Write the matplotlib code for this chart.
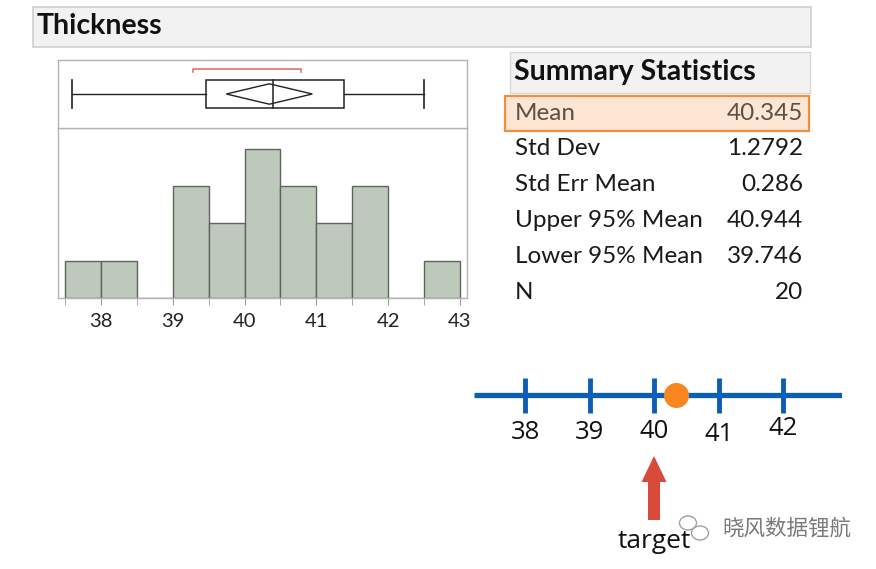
import numpy as np
import matplotlib
matplotlib.use("Agg")
import matplotlib.pyplot as plt
from matplotlib.patches import Rectangle, Polygon, FancyArrow, Ellipse

plt.rcParams['font.family'] = ['Lato', 'DejaVu Sans']

# datos del histograma
bin_edges = [37.5, 38.0, 38.5, 39.0, 39.5, 40.0, 40.5, 41.0, 41.5, 42.0, 42.5, 43.0]
counts = [1, 1, 0, 3, 2, 4, 3, 2, 3, 0, 1]
hist_ticks = [38, 39, 40, 41, 42, 43]

# datos del box plot
whisker_lo = 37.6
whisker_hi = 42.5
q1 = 39.46
q3 = 41.38
median = 40.4
mean = 40.345
ci_lo = 39.746
ci_hi = 40.944
short_lo = 39.28
short_hi = 40.79

# tabla resumen
stat_names = ["Mean", "Std Dev", "Std Err Mean", "Upper 95% Mean", "Lower 95% Mean", "N"]
stat_values = ["40.345", "1.2792", "0.286", "40.944", "39.746", "20"]

# recta numerica
line_ticks = [38, 39, 40, 41, 42]
target = 40

W, H = 876, 569
fig = plt.figure(figsize=(W / 100, H / 100), dpi=100)

def fig_rect(x0, y0, x1, y1):
    # pixeles -> fraccion de figura
    return [x0 / W, 1 - y1 / H, (x1 - x0) / W, (y1 - y0) / H]

xlim = (37.40, 43.10)
frame_col = '#B4B4B4'

# histograma
axh = fig.add_axes(fig_rect(58, 128, 467, 298))
widths = np.diff(bin_edges)
axh.bar(bin_edges[:-1], counts, width=widths, align='edge',
        color='#BDC9BA', edgecolor='#5E655F', linewidth=1.0)
axh.set_xlim(*xlim)
axh.set_ylim(0, 4.56)
axh.set_yticks([])
axh.set_xticks(hist_ticks)
axh.set_xticks(bin_edges, minor=True)
axh.tick_params(axis='x', which='both', length=5, color='#9A9A9A', labelsize=14.5,
                pad=6, labelcolor='#222222')
for s in axh.spines.values():
    s.set_color(frame_col)
    s.set_linewidth(1.0)

# box plot
axb = fig.add_axes(fig_rect(58, 60, 467, 128))
axb.set_xlim(*xlim)
axb.set_ylim(0, 1)
axb.set_xticks([])
axb.set_yticks([])
for s in axb.spines.values():
    s.set_color(frame_col)
    s.set_linewidth(1.0)
yc = 0.5
bh = 0.2
axb.plot([whisker_lo, q1], [yc, yc], color='#222222', lw=1)
axb.plot([q3, whisker_hi], [yc, yc], color='#222222', lw=1)
axb.plot([whisker_lo, whisker_lo], [yc - 0.2, yc + 0.2], color='#222222', lw=1.2)
axb.plot([whisker_hi, whisker_hi], [yc - 0.2, yc + 0.2], color='#222222', lw=1.2)
axb.add_patch(Rectangle((q1, yc - bh), q3 - q1, 2 * bh, fill=False,
                        edgecolor='#222222', lw=1.1))
axb.plot([median, median], [yc - bh, yc + bh], color='#222222', lw=1.1)
axb.add_patch(Polygon([[ci_lo, yc], [mean, yc + 0.15], [ci_hi, yc], [mean, yc - 0.15]],
                      closed=True, fill=False, edgecolor='#222222', lw=1.0))
axb.plot([short_lo, short_lo, short_hi, short_hi], [0.82, 0.87, 0.87, 0.82],
         color='#E87070', lw=1.2)

# capa de anotaciones en pixeles
ov = fig.add_axes([0, 0, 1, 1], zorder=-1)
ov.set_xlim(0, W)
ov.set_ylim(H, 0)
ov.axis('off')

ov.add_patch(Rectangle((33, 7), 778, 40, facecolor='#F2F2F2', edgecolor='#CFCFCF', lw=1.2))
ov.text(37, 26, "Thickness", fontsize=20.5, fontweight='bold', va='center', ha='left',
        color='#111111')

ov.add_patch(Rectangle((510, 52), 300, 41, facecolor='#F2F2F2', edgecolor='#D8D8D8', lw=1.0))
ov.text(514, 72, "Summary Statistics", fontsize=20.5, fontweight='bold', va='center',
        ha='left', color='#111111')

row_y = 113
for i, (name, val) in enumerate(zip(stat_names, stat_values)):
    y = row_y + i * 35.8
    col = '#5A5048' if i == 0 else '#1A1A1A'
    if i == 0:
        ov.add_patch(Rectangle((505, y - 17), 304, 35, facecolor='#FCE5D3',
                               edgecolor='#F0903F', lw=1.6))
    ov.text(515, y, name, fontsize=17.5, va='center', ha='left', color=col)
    ov.text(803, y, val, fontsize=17.5, va='center', ha='right', color=col)

# recta numerica
axn = fig.add_axes(fig_rect(474, 360, 842, 460))
axn.set_xlim(37.21, 42.91)
axn.set_ylim(-1, 1)
axn.axis('off')
blue = '#0B5DB5'
axn.plot([37.21, 42.91], [0.3, 0.3], color=blue, lw=3.8, solid_capstyle='butt')
for t in line_ticks:
    axn.plot([t, t], [-0.05, 0.65], color=blue, lw=3.5, solid_capstyle='butt')
axn.plot([mean], [0.3], 'o', color='#F7861E', markersize=17, zorder=5)
label_dy = [0, 0, 0.02, -0.04, 0.08]
for t, dy in zip(line_ticks, label_dy):
    axn.text(t, -0.45 + dy, str(t), fontsize=18.5, ha='center', va='center',
             color='#111111', family=['Open Sans', 'DejaVu Sans'])

# flecha del target
x_t = 525 + (target - line_ticks[0]) * 64.5
ov.add_patch(FancyArrow(x_t, 520, 0, -64, width=12, head_width=25, head_length=26,
                        length_includes_head=True, color='#D84B3B', lw=0))
ov.text(x_t, 542, "target", fontsize=19, ha='center', va='center', color='#111111',
        family=['Open Sans', 'DejaVu Sans'])

# marca de agua
ov.add_patch(Ellipse((688, 523), 17, 14, fill=False, edgecolor='#A0A0A0', lw=1.0))
ov.add_patch(Ellipse((700, 533), 17, 14, fill=False, edgecolor='#A0A0A0', lw=1.0))
ov.text(722, 529, "晓风数据锂航", fontsize=15.5, ha='left', va='center', color='#7A7A7A',
        family=['Noto Sans CJK SC', 'DejaVu Sans'])

fig.savefig("out.png", dpi=100)
